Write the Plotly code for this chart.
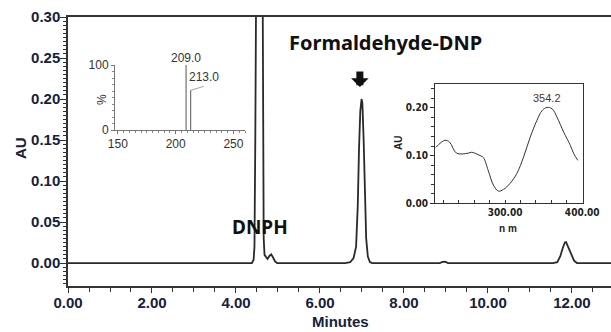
import plotly.graph_objects as go

# ---------------- data ----------------
# main chromatogram (minutes, AU)
rt_min = [0.00, 4.38, 4.42, 4.44, 4.46, 4.48, 4.55, 4.63, 4.645, 4.66, 4.68, 4.71, 4.75, 4.80, 4.84, 4.88, 4.93, 4.98,
          6.60, 6.72, 6.80, 6.86, 6.90, 6.93, 6.96, 6.99, 7.01, 7.04, 7.07, 7.10, 7.14, 7.19, 7.25,
          8.85, 8.92, 8.98, 9.05,
          11.55, 11.65, 11.72, 11.78, 11.83, 11.86, 11.90, 11.94, 11.99, 12.05, 12.12, 12.95]
absorb = [0.000, 0.000, 0.004, 0.020, 0.150, 0.400, 1.000, 0.400, 0.150, 0.030, 0.010, 0.007, 0.005, 0.009, 0.0105, 0.007, 0.002, 0.000,
          0.000, 0.001, 0.006, 0.020, 0.070, 0.140, 0.185, 0.200, 0.195, 0.150, 0.080, 0.030, 0.008, 0.001, 0.000,
          0.000, 0.0015, 0.0017, 0.000,
          0.000, 0.001, 0.008, 0.018, 0.025, 0.0255, 0.021, 0.016, 0.009, 0.003, 0.000, 0.000]

# mass spectrum inset (m/z, relative %)
ms_mz = [209.0, 213.0]
ms_int = [100, 61]
ms_labels = ["209.0", "213.0"]

# UV spectrum inset (nm, AU)
uv_nm = [210, 221.8, 228, 237, 252, 256.5, 267.4, 271.7, 278, 284.8, 291.3, 297.8, 306.5, 315.2, 323.9,
         332.6, 341.3, 347.8, 354.4, 360.9, 367.4, 376, 384.7, 389, 394.3]
uv_au = [0.117, 0.132, 0.128, 0.105, 0.105, 0.107, 0.100, 0.096, 0.069, 0.038, 0.0256, 0.029, 0.042, 0.0625, 0.097,
         0.139, 0.174, 0.194, 0.201, 0.198, 0.180, 0.149, 0.121, 0.104, 0.090]
uv_peak_nm = 354.2
uv_peak_au = 0.201

main_x_ticks = [0, 2, 4, 6, 8, 10, 12]
main_y_ticks = [0.00, 0.05, 0.10, 0.15, 0.20, 0.25, 0.30]

# ---------------- figure ----------------
W, H = 611, 332
def px_x(p):
    return p / W
def px_y(p):
    return (H - p) / H

fig = go.Figure()

fig.add_trace(go.Scatter(x=rt_min, y=absorb, mode="lines",
                         line=dict(color="#2a2a2a", width=1.8), xaxis="x", yaxis="y",
                         showlegend=False, hoverinfo="skip"))

# mass spectrum sticks
ms_x, ms_y = [], []
for m, v in zip(ms_mz, ms_int):
    ms_x += [m, m, None]
    ms_y += [0, v, None]
fig.add_trace(go.Scatter(x=ms_x, y=ms_y, mode="lines", line=dict(color="#555", width=1),
                         xaxis="x2", yaxis="y2", showlegend=False, hoverinfo="skip"))

# uv spectrum
fig.add_trace(go.Scatter(x=uv_nm, y=uv_au, mode="lines", line=dict(color="#333", width=1, shape="spline"),
                         xaxis="x3", yaxis="y3", showlegend=False, hoverinfo="skip"))

tickc = "#16213c"
axfont = dict(family="Liberation Sans, Arial", size=15, color=tickc, weight="bold")
inset_font = dict(family="Liberation Sans, Arial", size=12, color="#333")
uv_font = dict(family="Liberation Sans Narrow, DejaVu Sans Condensed, Arial", size=10, color="#222", weight="bold")

fig.update_layout(
    width=W, height=H, margin=dict(l=0, r=0, t=0, b=0, autoexpand=False),
    paper_bgcolor="white", plot_bgcolor="white",
    xaxis=dict(domain=[px_x(68), 1], range=[0, 12.93], tickvals=main_x_ticks, tickformat=".2f",
               showline=True, linecolor="#333", linewidth=1.5, mirror=True, showgrid=False, zeroline=False,
               ticks="outside", ticklen=5, tickwidth=1.2, tickcolor="#333", tickfont=axfont, automargin=False,
               ticklabelstandoff=-3,
               minor=dict(dtick=0.5, ticks="outside", ticklen=4, tickcolor="#333", showgrid=False),
               anchor="y"),
    yaxis=dict(domain=[px_y(286), px_y(17)], range=[-0.028, 0.30], tickvals=main_y_ticks, tickformat=".2f",
               showline=True, linecolor="#333", linewidth=1.5, showgrid=False, zeroline=False,
               ticks="outside", ticklen=6, tickwidth=1.2, tickcolor="#333", tickfont=axfont, automargin=False,
               ticklabelstandoff=-3,
               minor=dict(dtick=0.005, ticks="outside", ticklen=3, tickcolor="#333", showgrid=False),
               anchor="x"),
    xaxis2=dict(domain=[px_x(115), px_x(245)], range=[147.5, 260], tickvals=[150, 200, 250],
                showline=True, linecolor="#777", linewidth=1, showgrid=False, zeroline=False,
                ticks="outside", ticklen=3, tickcolor="#777", tickfont=inset_font, automargin=False,
                minor=dict(dtick=5, ticks="outside", ticklen=2, tickcolor="#888"),
                anchor="y2"),
    yaxis2=dict(domain=[px_y(130), px_y(65)], range=[0, 100], tickvals=[0, 100],
                showline=True, linecolor="#777", linewidth=1, showgrid=False, zeroline=False,
                ticks="outside", ticklen=3, tickcolor="#777", tickfont=inset_font, automargin=False,
                minor=dict(dtick=10, ticks="outside", ticklen=2, tickcolor="#888"),
                anchor="x2"),
    xaxis3=dict(domain=[px_x(435), px_x(583)], range=[209, 401], tickvals=[300, 400], tickformat=".2f",
                showline=True, linecolor="#333", linewidth=1, mirror=True, showgrid=False, zeroline=False,
                ticks="inside", ticklen=3, tickcolor="#333", tickfont=uv_font, automargin=False,
                minor=dict(dtick=20, ticks="inside", ticklen=3, tickcolor="#333"),
                anchor="y3"),
    yaxis3=dict(domain=[px_y(203.3), px_y(84)], range=[0, 0.25], tickvals=[0, 0.1, 0.2], tickformat=".2f",
                showline=True, linecolor="#333", linewidth=1, mirror=True, showgrid=False, zeroline=False,
                ticks="outside", ticklen=4, tickcolor="#333", tickfont=uv_font, automargin=False,
                minor=dict(dtick=0.02, ticks="outside", ticklen=3, tickcolor="#333"),
                anchor="x3"),
)

C = dict(xanchor="center", yanchor="middle", showarrow=False, xref="paper", yref="paper")
ann = []
# axis titles
ann.append(dict(text="AU", x=px_x(20), y=px_y(148), textangle=-90,
                font=dict(family="Liberation Sans, Arial", size=15, color=tickc, weight="bold"), **C))
ann.append(dict(text="Minutes", x=px_x(340), y=px_y(321),
                font=dict(family="Liberation Sans, Arial", size=15, color=tickc, weight="bold"), **C))
# peak labels
ann.append(dict(text="Formaldehyde-DNP", x=px_x(385), y=px_y(43),
                font=dict(family="Noto Sans", size=20, color="#111", weight="bold"), **C))
ann.append(dict(text="DNPH", x=px_x(260), y=px_y(227),
                font=dict(family="Noto Sans", size=19, color="#111", weight="bold"), **C))
# arrow
ann.append(dict(text="", x=6.95, y=0.2145, xref="x", yref="y", ax=0, ay=-17, axref="pixel", ayref="pixel",
                showarrow=True, arrowhead=1, arrowwidth=7, arrowsize=0.42, arrowcolor="#111"))
# mass spectrum labels
ann.append(dict(text=ms_labels[0], x=ms_mz[0], y=ms_int[0], xref="x2", yref="y2", yshift=7, showarrow=False,
                xanchor="center", yanchor="middle", font=inset_font))
ann.append(dict(text=ms_labels[1], x=ms_mz[1], y=ms_int[1], xref="x2", yref="y2", showarrow=True,
                ax=13, ay=-4, arrowhead=0, arrowwidth=0.8, arrowcolor="#888", xanchor="center", yanchor="bottom",
                font=inset_font))
ann.append(dict(text="%", x=px_x(102), y=px_y(100), textangle=-90, font=inset_font, **C))
# uv labels
ann.append(dict(text=f"{uv_peak_nm}", x=uv_peak_nm, y=uv_peak_au, xref="x3", yref="y3", yshift=9, showarrow=False,
                xanchor="center", yanchor="middle",
                font=dict(family="Liberation Sans Narrow, Arial", size=11, color="#5a3020")))
ann.append(dict(text="AU", x=px_x(398), y=px_y(143), textangle=-90,
                font=dict(family="Liberation Sans, Arial", size=10, color="#222", weight="bold"), **C))
ann.append(dict(text="n m", x=px_x(508), y=px_y(229),
                font=dict(family="Liberation Sans Narrow, Arial", size=10, color="#222", weight="bold"), **C))
fig.update_layout(annotations=ann)

fig.write_html("out.html")
